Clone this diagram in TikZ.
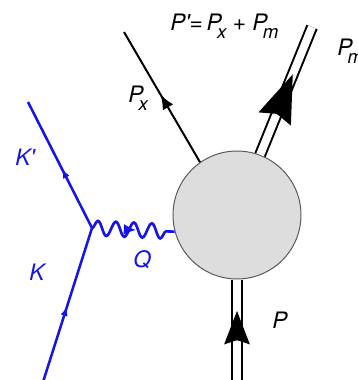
\documentclass[tikz,border=0pt]{standalone}
\usepackage{fontspec}
\setmainfont{TeX Gyre Heros}
\usetikzlibrary{arrows.meta}
\usetikzlibrary{decorations.pathmorphing}
\usetikzlibrary{decorations.markings}
\definecolor{lepton}{RGB}{20,20,235}
\definecolor{blobgray}{RGB}{221,221,221}
\definecolor{blobline}{RGB}{90,90,90}
\newcommand\lowsub[1]{\kern-3.5pt\raisebox{-6pt}{\fontsize{14}{16}\selectfont #1}}
\tikzset{
  lbl/.style={anchor=base west, inner sep=0pt, font=\fontsize{17}{20}\selectfont\itshape},
  midarrow/.style 2 args={postaction={decorate}, decoration={markings, mark=at position #1 with {\arrow{#2}}}},
}

\begin{document}
\begin{tikzpicture}[x=0.75pt,y=0.75pt,yscale=-1,xscale=1]
\useasboundingbox (0,0) rectangle (358,380); %set diagram size

%Shape: Circle
\node [circle, draw=blobline, fill=blobgray, line width=0.75, minimum size=96pt, inner sep=0pt] (blob) at (237,215) {};

\coordinate (vtx) at (92,228);
\coordinate (kin) at (43,382);
\coordinate (kout) at (28,102);
\coordinate (pxend) at (124,32);
\coordinate (pmend) at (312,27);
\coordinate (pin) at (237,384);

%Straight Lines
\draw [lepton, line width=1.9, midarrow={0.49}{Latex[length=7pt,width=5.5pt]}] (kin) -- (vtx);
%Straight Lines
\draw [lepton, line width=1.9, midarrow={0.47}{Latex[length=7pt,width=5.5pt]}] (vtx) -- (kout);
%Wavy Line
\draw [lepton, line width=2, decorate, decoration={snake, amplitude=5.5pt, segment length=13.5pt}] (vtx) -- (blob.195);
\draw [lepton, draw=none, line width=1, midarrow={0.53}{Latex[length=9pt,width=8pt]}] (vtx) -- (blob.195);
%Straight Lines
\draw [line width=1.5, midarrow={0.52}{Latex[length=11pt,width=9pt]}] (blob.125) -- (pxend);
%Double Lines
\draw [line width=1.5, double, double distance=6] (blob.69) -- (pmend);
\path [line width=1.5, midarrow={0.63}{Stealth[length=36pt,width=26pt,inset=4pt]}] (blob.69) -- (pmend);
%Double Lines
\draw [line width=1.5, double, double distance=6] (pin) -- (blob.270);
\path [line width=1.5, midarrow={0.70}{Stealth[length=25pt,width=19pt,inset=3pt]}] (pin) -- (blob.270);

% Text Node
\node [lbl] (lfinal) at (170,30) {P\textquotesingle=\,P\lowsub{x}\;+\;P\lowsub{m}};
% Text Node
\node [lbl] (lpx) at (128,102) {P\lowsub{x}};
% Text Node
\node [lbl] (lpm) at (337,55) {P\lowsub{m}};
% Text Node
\node [lbl, lepton] (lkout) at (15,165) {K\textquotesingle};
% Text Node
\node [lbl, lepton] (lkin) at (29,280) {K};
% Text Node
\node [lbl, lepton] (lq) at (133,267) {Q};
% Text Node
\node [lbl] (lp) at (272,328) {P};

\end{tikzpicture}
\end{document}
